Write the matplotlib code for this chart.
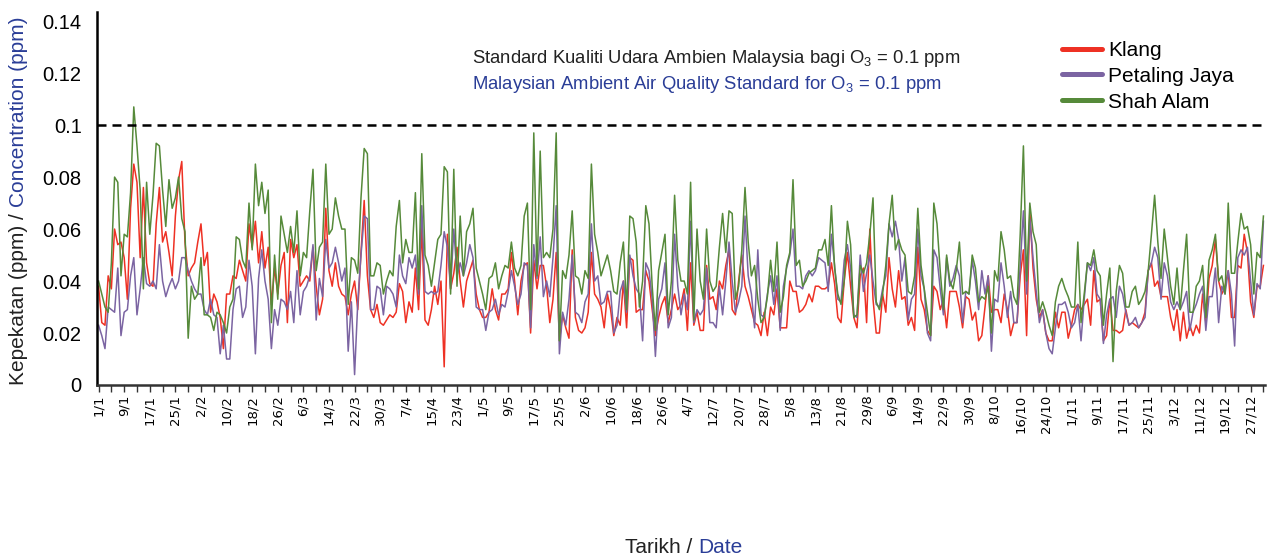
import numpy as np
import pandas as pd
import matplotlib
matplotlib.use('Agg')
import matplotlib.pyplot as plt
from matplotlib.lines import Line2D

plt.rcParams['font.family'] = ['Liberation Sans', 'DejaVu Sans']
plt.rcParams['mathtext.fontset'] = 'custom'
plt.rcParams['mathtext.rm'] = 'Liberation Sans'

# one value per day for a (non-leap) year, in 1/1000 ppm
dates = pd.date_range('2013-01-01', '2013-12-31', freq='D')

klang = [
    38, 24, 23, 42, 37, 60, 54, 55, 49, 33,
    68, 85, 78, 49, 76, 47, 39, 38, 62, 76,
    55, 59, 51, 42, 65, 79, 86, 55, 42, 45,
    47, 55, 62, 46, 51, 28, 35, 32, 26, 14,
    35, 35, 42, 41, 48, 44, 40, 62, 53, 63,
    47, 59, 45, 53, 31, 45, 35, 46, 51, 24,
    56, 49, 54, 38, 40, 42, 40, 53, 38, 27,
    33, 68, 44, 38, 47, 38, 35, 34, 27, 35,
    40, 29, 51, 71, 42, 29, 26, 31, 24, 23,
    25, 27, 26, 28, 39, 36, 24, 32, 28, 45,
    29, 61, 25, 23, 29, 38, 31, 40, 7, 58,
    37, 43, 53, 40, 30, 40, 44, 48, 35, 29,
    26, 26, 28, 37, 29, 25, 35, 35, 37, 51,
    40, 27, 40, 46, 47, 20, 48, 37, 46, 46,
    38, 24, 33, 51, 17, 27, 22, 18, 52, 26,
    21, 20, 22, 28, 51, 35, 33, 30, 22, 35,
    29, 19, 26, 23, 40, 22, 49, 48, 28, 29,
    29, 44, 40, 29, 19, 26, 31, 34, 24, 29,
    35, 29, 31, 37, 21, 47, 23, 28, 21, 21,
    46, 33, 34, 29, 40, 37, 46, 52, 29, 27,
    40, 50, 38, 34, 29, 24, 23, 19, 28, 19,
    30, 27, 37, 22, 22, 22, 40, 36, 36, 28,
    29, 31, 35, 32, 38, 38, 37, 37, 38, 47,
    39, 26, 24, 40, 51, 38, 26, 22, 42, 45,
    24, 60, 33, 20, 20, 35, 28, 49, 37, 30,
    44, 33, 34, 23, 26, 21, 53, 33, 29, 21,
    19, 38, 36, 29, 33, 22, 36, 36, 36, 30,
    22, 34, 33, 25, 28, 17, 19, 30, 42, 28,
    29, 29, 24, 35, 29, 19, 24, 24, 42, 52,
    19, 67, 45, 33, 26, 29, 20, 17, 17, 28,
    22, 28, 28, 18, 23, 29, 31, 29, 31, 33,
    23, 44, 32, 33, 17, 19, 33, 21, 21, 20,
    21, 29, 23, 24, 23, 22, 24, 28, 44, 47,
    38, 40, 34, 34, 34, 26, 21, 29, 17, 28,
    18, 23, 19, 23, 20, 35, 24, 41, 46, 56,
    40, 35, 38, 44, 26, 26, 46, 45, 58, 51,
    32, 26, 38, 38, 46,
]

petaling_jaya = [
    23, 19, 14, 30, 29, 28, 45, 19, 28, 29,
    42, 49, 27, 37, 49, 39, 38, 40, 37, 54,
    40, 34, 38, 41, 37, 40, 49, 49, 44, 40,
    37, 35, 35, 29, 27, 33, 27, 26, 12, 23,
    10, 10, 29, 37, 38, 26, 30, 48, 38, 12,
    41, 52, 40, 33, 14, 29, 23, 33, 32, 29,
    36, 24, 44, 27, 36, 38, 42, 54, 25, 41,
    34, 56, 45, 47, 53, 47, 40, 45, 13, 32,
    4, 32, 50, 65, 64, 29, 29, 38, 37, 27,
    38, 37, 35, 30, 50, 42, 39, 49, 45, 50,
    35, 69, 36, 35, 36, 35, 36, 46, 59, 53,
    37, 60, 42, 47, 42, 47, 54, 49, 30, 29,
    29, 21, 28, 29, 33, 27, 31, 30, 36, 44,
    38, 31, 35, 47, 46, 22, 54, 41, 57, 34,
    40, 34, 49, 69, 12, 28, 23, 33, 50, 28,
    27, 24, 32, 35, 62, 40, 42, 31, 32, 36,
    36, 20, 23, 36, 40, 28, 50, 42, 37, 35,
    17, 47, 44, 33, 11, 33, 37, 47, 22, 26,
    58, 38, 27, 35, 29, 63, 24, 29, 27, 29,
    45, 24, 24, 22, 38, 27, 40, 55, 40, 28,
    32, 38, 65, 42, 35, 22, 52, 27, 26, 35,
    42, 31, 42, 21, 38, 45, 50, 60, 38, 38,
    37, 42, 44, 42, 44, 49, 48, 47, 36, 58,
    46, 33, 32, 48, 54, 45, 27, 26, 50, 36,
    43, 50, 40, 31, 30, 37, 42, 62, 57, 63,
    56, 40, 49, 25, 33, 35, 60, 42, 37, 20,
    17, 52, 49, 37, 27, 49, 38, 41, 46, 42,
    24, 36, 35, 48, 40, 29, 44, 35, 42, 13,
    33, 32, 47, 38, 26, 36, 24, 24, 46, 67,
    35, 64, 49, 36, 24, 29, 20, 14, 12, 22,
    31, 31, 32, 28, 22, 24, 31, 17, 33, 47,
    44, 49, 35, 33, 16, 27, 33, 34, 26, 38,
    35, 28, 23, 24, 26, 22, 24, 26, 44, 47,
    53, 49, 33, 47, 42, 32, 29, 32, 29, 32,
    36, 21, 28, 31, 35, 38, 21, 34, 34, 45,
    24, 38, 35, 44, 35, 15, 49, 52, 50, 53,
    40, 27, 39, 37, 63,
]

shah_alam = [
    40, 35, 30, 28, 47, 80, 78, 42, 58, 57,
    74, 107, 92, 75, 37, 78, 58, 73, 93, 92,
    75, 61, 79, 68, 72, 80, 64, 59, 18, 38,
    33, 35, 49, 27, 27, 26, 21, 28, 27, 24,
    20, 30, 33, 57, 56, 48, 45, 70, 52, 85,
    69, 78, 66, 75, 24, 50, 33, 65, 58, 51,
    61, 51, 67, 42, 51, 49, 67, 83, 44, 53,
    55, 85, 58, 60, 72, 65, 60, 60, 31, 49,
    48, 43, 72, 91, 89, 42, 42, 47, 46, 35,
    40, 44, 42, 61, 71, 47, 56, 51, 51, 74,
    37, 89, 50, 46, 38, 47, 56, 58, 84, 82,
    35, 83, 38, 65, 42, 59, 62, 68, 45, 40,
    35, 29, 41, 42, 47, 37, 42, 46, 45, 55,
    45, 42, 46, 65, 70, 29, 97, 42, 90, 49,
    51, 49, 60, 97, 17, 44, 41, 50, 67, 42,
    41, 35, 44, 41, 85, 58, 51, 42, 46, 50,
    44, 36, 35, 47, 55, 29, 65, 64, 55, 30,
    40, 69, 62, 38, 21, 44, 51, 58, 27, 40,
    73, 48, 40, 40, 35, 78, 25, 60, 40, 33,
    60, 40, 36, 38, 53, 66, 51, 67, 66, 33,
    38, 52, 76, 55, 42, 46, 33, 24, 26, 34,
    48, 36, 55, 28, 34, 46, 51, 79, 46, 48,
    38, 40, 43, 44, 45, 52, 52, 56, 46, 69,
    45, 35, 31, 40, 63, 54, 26, 27, 46, 43,
    47, 58, 72, 32, 29, 35, 46, 62, 73, 52,
    56, 52, 50, 36, 35, 42, 68, 46, 37, 28,
    19, 70, 62, 44, 29, 50, 40, 37, 44, 55,
    35, 36, 35, 50, 45, 32, 34, 33, 38, 20,
    44, 40, 59, 52, 41, 42, 34, 31, 58, 92,
    40, 70, 59, 54, 28, 32, 28, 23, 19, 32,
    38, 41, 37, 34, 30, 30, 55, 24, 35, 47,
    46, 52, 44, 42, 23, 35, 45, 9, 36, 46,
    43, 30, 30, 36, 38, 31, 33, 36, 44, 58,
    73, 55, 41, 60, 49, 38, 31, 45, 29, 44,
    58, 28, 28, 38, 40, 46, 26, 48, 52, 58,
    40, 42, 35, 70, 43, 43, 55, 66, 60, 61,
    54, 35, 51, 49, 65,
]

standard = 0.1
yticks = [0, 0.02, 0.04, 0.06, 0.08, 0.1, 0.12, 0.14]
ytick_labels = ['0', '0.02', '0.04', '0.06', '0.08', '0.1', '0.12', '0.14']

series = [('Klang', klang, '#ee3124'),
          ('Petaling Jaya', petaling_jaya, '#7b64a2'),
          ('Shah Alam', shah_alam, '#568a3a')]
blue = '#2a3d97'

fig = plt.figure(figsize=(12.71, 5.6), dpi=100)
ax = fig.add_axes([0.0763, 0.3125, 0.919, 0.666])

days = np.arange(len(dates))
for name, vals, col in series:
    ax.plot(days, np.array(vals) / 1000.0, color=col, lw=1.1, zorder=2)

ax.axhline(standard, color='k', lw=1.8, linestyle=(0, (3.6, 2.4)), zorder=3)

ax.set_xlim(-0.5, 364.5)
ax.set_ylim(0, 0.1435)

# x ticks: every 8 days labelled, minor ticks in between
ax.set_xticks(days[::8])
ax.set_xticklabels([f'{d.day}/{d.month}' for d in dates[::8]], rotation=90,
                   fontfamily='DejaVu Sans', fontsize=9.5)
ax.set_xticks(days[4::8], minor=True)
ax.tick_params(axis='x', which='both', direction='out', length=5, width=1,
               color='#333333', pad=2)

ax.set_yticks(yticks)
ax.set_yticklabels(ytick_labels, fontsize=14.5)
ax.tick_params(axis='y', which='major', length=0, pad=11)
ax.set_yticks([standard], minor=True)
ax.tick_params(axis='y', which='minor', length=4, width=1.5, color='k')

for s in ['top', 'right']:
    ax.spines[s].set_visible(False)
ax.spines['left'].set_linewidth(1.8)
ax.spines['bottom'].set_linewidth(1.8)
ax.spines['bottom'].set_color('#333333')

# annotation of the standard
ax.text(0.3714, 0.8875, 'Standard Kualiti Udara Ambien Malaysia bagi O$_{\\mathregular{3}}$ = 0.1 ppm',
        transform=fig.transFigure, fontsize=13.3, va='baseline', ha='left', color='#222222')
ax.text(0.3714, 0.841, 'Malaysian Ambient Air Quality Standard for O$_{\\mathregular{3}}$ = 0.1 ppm',
        transform=fig.transFigure, fontsize=13.3, va='baseline', ha='left', color=blue)

handles = [Line2D([0], [0], color=c, lw=3.6, solid_capstyle='round') for _, _, c in series]
ax.legend(handles, [n for n, _, _ in series], loc='upper left',
          bbox_to_anchor=(0.8356, 0.927), bbox_transform=fig.transFigure,
          frameon=False, fontsize=15, handlelength=1.9, handletextpad=0.3,
          labelspacing=0.33, borderpad=0, borderaxespad=0)

# two-colour axis titles
fig.canvas.draw()
r = fig.canvas.get_renderer()
gap = 0.278 * 15 * 100 / 72
W, H = fig.bbox.width, fig.bbox.height

t1 = fig.text(0.0142, 175 / H, 'Kepekatan (ppm) /', rotation=90, ha='center',
              va='bottom', fontsize=15, color='#222222')
bb = t1.get_window_extent(r)
fig.text(0.0142, (bb.y1 + gap) / H, 'Concentration (ppm)', rotation=90, ha='center',
         va='bottom', fontsize=15, color=blue)

x1 = fig.text(625 / W, 0.0125, 'Tarikh /', ha='left', va='baseline',
              fontsize=15, color='#222222')
bb = x1.get_window_extent(r)
fig.text((bb.x1 + gap) / W, 0.0125, 'Date', ha='left', va='baseline',
         fontsize=15, color=blue)

fig.savefig('out.png', dpi=100, facecolor='white')
